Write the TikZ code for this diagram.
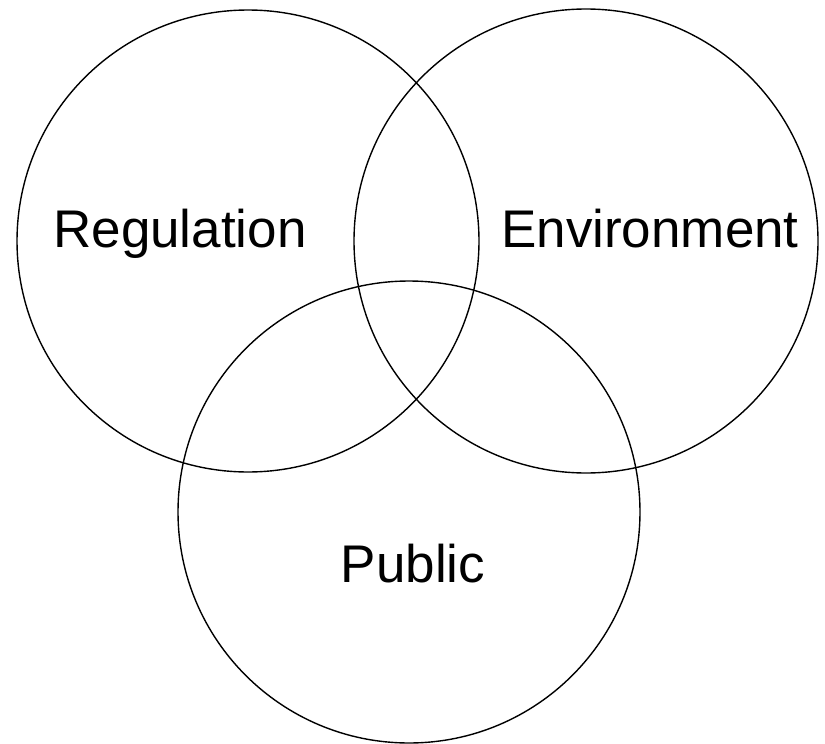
\documentclass[tikz,border=0pt]{standalone}
\usepackage{fontspec}
\setmainfont{Liberation Sans}
\begin{document}
\begin{tikzpicture}[x=1pt,y=-1pt,
  ring/.style={draw=black,line width=1.4pt},
  setlabel/.style={font=\fontsize{53}{60}\selectfont,inner sep=0pt,anchor=base}]
  \useasboundingbox (0,0) rectangle (825,744);
  % the three overlapping sets
  \draw[ring] (248,241) circle[radius=231];
  \draw[ring] (586,241) circle[radius=232];
  \draw[ring] (409,512) circle[radius=231];
  % set names
  \node[setlabel] (reg) at (180,247) {Regulation};
  \node[setlabel] (env) at (650,247) {Environment};
  \node[setlabel] (pub) at (413,582) {Public};
\end{tikzpicture}
\end{document}
